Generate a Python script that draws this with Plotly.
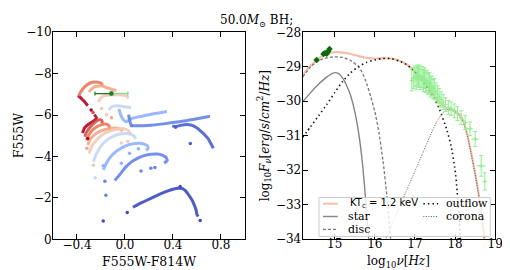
import plotly.graph_objects as go

# ---------------- left panel: colour-magnitude tracks ----------------
t1_x = [-0.392, -0.372, -0.353, -0.33, -0.31, None, -0.255, -0.238, -0.250, -0.275, -0.304, -0.337, -0.353]
t1_y = [-6.93, -6.85, -6.74, -6.60, -6.45, None, -6.02, -5.87, -5.76, -5.66, -5.56, -5.38, -5.13]
t2_x = [-0.335, -0.322, -0.30, -0.27, -0.235, -0.205, -0.19, -0.192]
t2_y = [-4.95, -5.15, -5.35, -5.55, -5.72, -5.78, -5.70, -5.58]
t3_x = [-0.386, -0.370, -0.345, -0.318, -0.291, -0.25, -0.218, -0.195, -0.188, None,
        -0.32, -0.305, -0.28, -0.245, -0.20, -0.16, -0.135, -0.128, -0.135]
t3_y = [-6.93, -7.10, -7.31, -7.45, -7.55, -7.60, -7.58, -7.52, -7.42, None,
        -4.78, -5.00, -5.22, -5.40, -5.53, -5.57, -5.50, -5.36, -5.25]
t4_x = [-0.30, -0.27, -0.236, -0.19, -0.154, -0.11, -0.072, None,
        -0.31, -0.29, -0.25, -0.20, -0.14, -0.08, -0.04, -0.02]
t4_y = [-7.12, -7.30, -7.39, -7.40, -7.33, -7.25, -7.19, None,
        -4.55, -4.82, -5.07, -5.24, -5.34, -5.38, -5.33, -5.22]
t5_x = [-0.222, -0.205, -0.18, -0.154, -0.10, -0.058, -0.01, 0.011, 0.03, None,
        -0.30, -0.28, -0.245, -0.195, -0.14, -0.08, -0.02, 0.02, 0.04, 0.045]
t5_y = [-6.63, -6.80, -6.92, -6.96, -6.98, -6.98, -6.96, -6.93, -6.81, None,
        -4.15, -4.45, -4.75, -5.02, -5.20, -5.30, -5.34, -5.28, -5.15, -5.05]
t6_x = [-0.134, -0.112, -0.071, -0.017, 0.052, None,
        -0.262, -0.24, -0.20, -0.15, -0.09, -0.03, 0.03, 0.075, 0.09]
t6_y = [-6.24, -6.40, -6.45, -6.42, -6.37, None,
        -3.75, -4.10, -4.50, -4.80, -5.00, -5.10, -5.10, -5.00, -4.85]
t7_x = [-0.05, -0.035, -0.01, 0.015, 0.04, 0.10, 0.20, 0.28, 0.35, None,
        -0.181, -0.153, -0.12, -0.085, -0.04, -0.003, 0.04, 0.079, 0.12, 0.16, 0.189, 0.192, 0.175]
t7_y = [-6.30, -6.00, -5.75, -5.68, -5.80, -5.90, -6.02, -6.10, -6.17, None,
        -3.35, -3.70, -3.98, -4.19, -4.37, -4.49, -4.58, -4.63, -4.64, -4.60, -4.50, -4.38, -4.30]
t8_x = [0.03, 0.04, 0.052, 0.10, 0.216, 0.35, 0.49, 0.60, 0.709, None,
        -0.085, -0.04, 0.0, 0.052, 0.10, 0.161, 0.22, 0.271, 0.31, 0.34, 0.353, 0.326]
t8_y = [-6.02, -5.75, -5.50, -5.48, -5.51, -5.60, -5.71, -5.82, -5.94, None,
        -2.84, -3.15, -3.45, -3.73, -3.90, -4.04, -4.11, -4.12, -4.07, -3.97, -3.80, -3.69]
t9_x = [0.394, 0.42, 0.46, 0.517, 0.56, 0.60, 0.641, 0.668, 0.695, 0.709, 0.737]
t9_y = [-5.48, -5.45, -5.50, -5.55, -5.50, -5.38, -5.18, -5.03, -4.85, -4.70, -4.40]
t10_x = [0.066, 0.14, 0.216, 0.29, 0.353, 0.40, 0.449, 0.48, 0.504, 0.53, 0.559, 0.578, 0.592, 0.60, 0.61]
t10_y = [-1.55, -1.77, -1.98, -2.18, -2.33, -2.42, -2.47, -2.45, -2.35, -2.15, -1.90, -1.65, -1.44, -1.20, -1.10]
track_colors = ["#b40426", "#d65244", "#e9785d", "#f5a788", "#f2cbb7",
                "#c7d7f0", "#90b2fe", "#6485ec", "#4a5fd1", "#3b4cc0"]

dots_x = [-0.282, -0.266, -0.31, -0.195, -0.154, -0.112, -0.318, -0.263, -0.249, -0.181,
          -0.167, -0.159, -0.181, 0.019, 0.134, 0.216, 0.25, -0.03, 0.038, 0.112,
          0.545, 0.422, 0.627, 0.057, 0.46, -0.03, 0.024]
dots_y = [-6.25, -6.13, -4.87, -6.32, -6.02, -5.87, -4.40, -3.58, -2.97, -3.55,
          -2.81, -2.13, -0.88, -1.30, -3.30, -3.43, -3.47, -3.68, -4.16, -4.37,
          -4.63, -5.41, -0.91, -5.48, -2.55, -4.65, -4.72]
dots_c = ["#b40426", "#d65244", "#b40426", "#f2cbb7", "#f2cbb7", "#f5a788", "#f5a788", "#f2cbb7", "#c7d7f0", "#90b2fe",
          "#6485ec", "#6485ec", "#3b4cc0", "#3b4cc0", "#6485ec", "#6485ec", "#6485ec", "#90b2fe", "#90b2fe", "#90b2fe",
          "#4a5fd1", "#4a5fd1", "#3b4cc0", "#6485ec", "#3b4cc0", "#f2cbb7", "#f2cbb7"]

obs_color_x = [-0.113]
obs_mag_y = [-7.04]
obs_color_err = [0.137]

# ---------------- right panel: SED ----------------
total_x = [14.2, 14.35, 14.5, 14.65, 14.8, 15.0, 15.2, 15.4, 15.6, 15.8, 16.0, 16.2, 16.4, 16.6, 16.8,
           17.0, 17.2, 17.4, 17.6, 17.8, 17.95, 18.1, 18.2, 18.3, 18.4, 18.5, 18.6, 18.7, 18.76]
total_y = [-29.25, -29.03, -28.86, -28.72, -28.63, -28.57, -28.59, -28.63, -28.69, -28.74, -28.76, -28.75,
           -28.76, -28.82, -28.94, -29.14, -29.38, -29.68, -30.02, -30.22, -30.26, -30.38, -30.56, -30.95,
           -31.5, -32.1, -32.8, -33.7, -34.3]
star_x = [14.2, 14.4, 14.6, 14.8, 14.9, 15.0, 15.1, 15.2, 15.3, 15.4, 15.5, 15.6, 15.7, 15.78, 15.86]
star_y = [-30.02, -29.75, -29.5, -29.3, -29.22, -29.17, -29.2, -29.33, -29.55, -29.85, -30.3, -30.95, -31.9, -33.0, -34.2]
disc_x = [14.2, 14.4, 14.6, 14.8, 15.0, 15.2, 15.4, 15.6, 15.7, 15.8, 15.9, 16.0, 16.1, 16.2, 16.3, 16.4]
disc_y = [-29.3, -29.0, -28.82, -28.74, -28.71, -28.73, -28.82, -29.0, -29.2, -29.5, -29.88, -30.3, -30.9, -31.7, -32.75, -34.1]
outflow_x = [14.2, 14.4, 14.6, 14.8, 15.0, 15.2, 15.4, 15.6, 15.8, 16.0, 16.2, 16.4, 16.6, 16.8, 17.0,
             17.2, 17.4, 17.6, 17.8, 17.9, 18.0, 18.05, 18.1, 18.14]
outflow_y = [-31.05, -30.74, -30.42, -30.1, -29.75, -29.42, -29.17, -28.99, -28.87, -28.80, -28.76, -28.76,
             -28.83, -28.94, -29.15, -29.45, -29.76, -30.2, -30.85, -31.3, -32.0, -32.6, -33.4, -34.2]
corona_x = [16.25, 16.5, 16.8, 17.0, 17.2, 17.4, 17.55, 17.7, 17.82, 17.92, 18.0, 18.1, 18.2, 18.3, 18.4,
            18.5, 18.6, 18.7, 18.76]
corona_y = [-34.05, -33.38, -32.57, -32.03, -31.49, -30.95, -30.58, -30.33, -30.24, -30.24, -30.3, -30.42,
            -30.6, -30.97, -31.52, -32.12, -32.82, -33.72, -34.3]

opt_x = [14.55, 14.72, 14.76, 14.80, 14.84, 14.87]
opt_y = [-28.80, -28.63, -28.60, -28.62, -28.55, -28.48]

xr_x = [16.92, 16.96, 17.0, 17.03, 17.06, 17.09, 17.12, 17.15, 17.18, 17.21, 17.24, 17.27, 17.3, 17.33,
        17.36, 17.39, 17.42, 17.45, 17.48, 17.52, 17.56, 17.6, 17.65, 17.7, 17.76, 17.83, 17.9, 17.98,
        18.06, 18.15, 18.25, 18.37, 18.5, 18.65, 18.74]
xr_y = [-29.40, -29.33, -29.28, -29.35, -29.25, -29.30, -29.27, -29.36, -29.30, -29.40, -29.33, -29.45,
        -29.40, -29.50, -29.47, -29.58, -29.55, -29.65, -29.62, -29.72, -29.80, -29.88, -29.95, -30.02,
        -30.10, -30.18, -30.22, -30.28, -30.36, -30.48, -30.62, -30.80, -31.10, -31.88, -32.33]
xr_yerr = [0.3, 0.3, 0.3, 0.32, 0.3, 0.3, 0.32, 0.3, 0.3, 0.32, 0.3, 0.3, 0.3, 0.3, 0.3, 0.3, 0.28, 0.28,
           0.28, 0.25, 0.25, 0.25, 0.22, 0.22, 0.2, 0.2, 0.2, 0.2, 0.2, 0.2, 0.2, 0.2, 0.22, 0.3, 0.25]
xr_xerr = [0.02] * 24 + [0.03, 0.03, 0.04, 0.04, 0.05, 0.05, 0.06, 0.08, 0.1, 0.12, 0.04]

fig = go.Figure()

tracks = [(t1_x, t1_y), (t2_x, t2_y), (t3_x, t3_y), (t4_x, t4_y), (t5_x, t5_y),
          (t6_x, t6_y), (t7_x, t7_y), (t8_x, t8_y), (t9_x, t9_y), (t10_x, t10_y)]
for (tx, ty), col in zip(tracks, track_colors):
    fig.add_trace(go.Scatter(x=tx, y=ty, mode="lines", line=dict(color=col, width=3.0, shape="spline", smoothing=0.6),
                             opacity=0.9, showlegend=False, xaxis="x", yaxis="y"))
fig.add_trace(go.Scatter(x=dots_x, y=dots_y, mode="markers", marker=dict(color=dots_c, size=3.5),
                         showlegend=False, xaxis="x", yaxis="y"))
fig.add_trace(go.Scatter(x=obs_color_x, y=obs_mag_y, mode="markers",
                         marker=dict(color="#7fd07f", size=2),
                         error_x=dict(type="data", array=obs_color_err, arrayminus=[0], color="#8fd88f", thickness=1.5, width=2),
                         showlegend=False, xaxis="x", yaxis="y"))
fig.add_trace(go.Scatter(x=obs_color_x, y=obs_mag_y, mode="markers",
                         marker=dict(color="#1b7a1b", size=4, symbol="square"),
                         error_x=dict(type="data", array=[0], arrayminus=obs_color_err, color="#1b7a1b", thickness=1.2, width=2),
                         showlegend=False, xaxis="x", yaxis="y"))

# right panel
fig.add_trace(go.Scatter(x=total_x, y=total_y, mode="lines", line=dict(color="#f3c1a9", width=2.2, shape="spline", smoothing=0.5),
                         showlegend=False, xaxis="x2", yaxis="y2"))
fig.add_trace(go.Scatter(x=star_x, y=star_y, mode="lines", line=dict(color="#848484", width=1.4, shape="spline", smoothing=0.5),
                         showlegend=False, xaxis="x2", yaxis="y2"))
fig.add_trace(go.Scatter(x=disc_x, y=disc_y, mode="lines", line=dict(color="#777777", width=1.3, dash="3px,2px", shape="spline", smoothing=0.5),
                         showlegend=False, xaxis="x2", yaxis="y2"))
fig.add_trace(go.Scatter(x=outflow_x, y=outflow_y, mode="lines", line=dict(color="#111111", width=1.6, dash="1.5px,3px", shape="spline", smoothing=0.5),
                         showlegend=False, xaxis="x2", yaxis="y2"))
fig.add_trace(go.Scatter(x=corona_x, y=corona_y, mode="lines", line=dict(color="#555555", width=1.0, dash="1px,1.5px", shape="spline", smoothing=0.5),
                         showlegend=False, xaxis="x2", yaxis="y2"))
fig.add_trace(go.Scatter(x=xr_x, y=xr_y, mode="markers",
                         marker=dict(color="#90ee90", size=3, symbol="cross-thin", line=dict(color="#90ee90", width=1)),
                         error_y=dict(type="data", array=xr_yerr, color="#90ee90", thickness=1, width=2),
                         error_x=dict(type="data", array=xr_xerr, color="#90ee90", thickness=1, width=0),
                         showlegend=False, xaxis="x2", yaxis="y2"))
fig.add_trace(go.Scatter(x=opt_x, y=opt_y, mode="markers",
                         marker=dict(color="#0b6b0b", size=5, symbol="diamond"),
                         showlegend=False, xaxis="x2", yaxis="y2"))

W, H = 510, 270
def px(x):
    return x / W
def py(y):
    return 1 - y / H

serif = "'DejaVu Serif', serif"
sans = "'DejaVu Sans', sans-serif"
axis_common = dict(showline=True, linecolor="black", linewidth=1, mirror="allticks", ticks="inside",
                   ticklen=5, tickcolor="black", tickwidth=1, showgrid=False, zeroline=False,
                   tickfont=dict(family=serif, size=12, color="black"))

fig.update_layout(
    width=W, height=H, margin=dict(l=0, r=0, t=0, b=0),
    paper_bgcolor="white", plot_bgcolor="white",
    xaxis=dict(domain=[px(45.7), px(240.7)], range=[-0.6, 1.0], anchor="y", ticklabelstandoff=-6,
               tickvals=[-0.4, 0.0, 0.4, 0.8], ticktext=["\u22120.4", "0.0", "0.4", "0.8"], **axis_common),
    yaxis=dict(domain=[py(236.6), py(18.2)], range=[0, -10], anchor="x", ticklabelstandoff=-2,
               tickvals=[-10, -8, -6, -4, -2, 0], ticktext=["\u221210", "\u22128", "\u22126", "\u22124", "\u22122", "0"],
               **axis_common),
    xaxis2=dict(domain=[px(299.3), px(495)], range=[14.2, 19], anchor="y2", ticklabelstandoff=-6,
                tickvals=[15, 16, 17, 18, 19], ticktext=["15", "16", "17", "18", "19"], **axis_common),
    yaxis2=dict(domain=[py(236.2), py(18.3)], range=[-34, -28], anchor="x2", ticklabelstandoff=-2,
                tickvals=[-34, -33, -32, -31, -30, -29, -28],
                ticktext=["\u221234", "\u221233", "\u221232", "\u221231", "\u221230", "\u221229", "\u221228"],
                **axis_common),
)

annots = [
    dict(text="50.0<i>M</i><sub>\u2299</sub> BH;", x=px(252), y=py(6), font=dict(family=serif, size=12)),
    dict(text="F555W-F814W", x=px(143), y=py(260), font=dict(family=serif, size=12.5)),
    dict(text="F555W", x=px(11), y=py(127), textangle=-90, font=dict(family=serif, size=12.5)),
    dict(text="log<sub>10</sub><i>\u03bd</i>[<i>Hz</i>]", x=px(397), y=py(260), font=dict(family=serif, size=12)),
    dict(text="log<sub>10</sub><i>F<sub>\u03bd</sub></i>[<i>erg</i>/<i>s</i>/<i>cm</i><sup>2</sup>/<i>Hz</i>]",
         x=px(261), y=py(127), textangle=-90, font=dict(family=serif, size=12)),
]
for a in annots:
    fig.add_annotation(xref="paper", yref="paper", showarrow=False, xanchor="center", yanchor="middle",
                       font_color="black", **a)

# legend (drawn manually, 2 columns)
fig.add_shape(type="rect", xref="paper", yref="paper", x0=px(316), x1=px(490), y0=py(233.5), y1=py(192.5),
              line=dict(color="#cccccc", width=1), fillcolor="rgba(255,255,255,0.8)", layer="above")
leg_rows = [199, 212.5, 226]
leg_items = [
    ("KT<sub>c</sub> = 1.2 keV", sans, 10, 320, 335, 345, leg_rows[0], dict(color="#f3c1a9", width=2)),
    ("star", serif, 11, 320, 335, 343, leg_rows[1], dict(color="#848484", width=1.4)),
    ("disc", serif, 11, 320, 335, 343, leg_rows[2], dict(color="#777777", width=1.3, dash="3px,2px")),
    ("outflow", serif, 11, 422, 437, 443, leg_rows[0], dict(color="#111111", width=1.6, dash="1.5px,3px")),
    ("corona", serif, 11, 422, 437, 443, leg_rows[1], dict(color="#555555", width=1.0, dash="1px,1.5px")),
]
for label, fam, fsz, lx0, lx1, tx, ry, lstyle in leg_items:
    fig.add_shape(type="line", xref="paper", yref="paper", x0=px(lx0), x1=px(lx1), y0=py(ry), y1=py(ry),
                  line=lstyle, layer="above")
    fig.add_annotation(xref="paper", yref="paper", x=px(tx), y=py(ry), text=label, showarrow=False,
                       xanchor="left", yanchor="middle", font=dict(family=fam, size=fsz, color="black"))

fig.write_html("out.html")
